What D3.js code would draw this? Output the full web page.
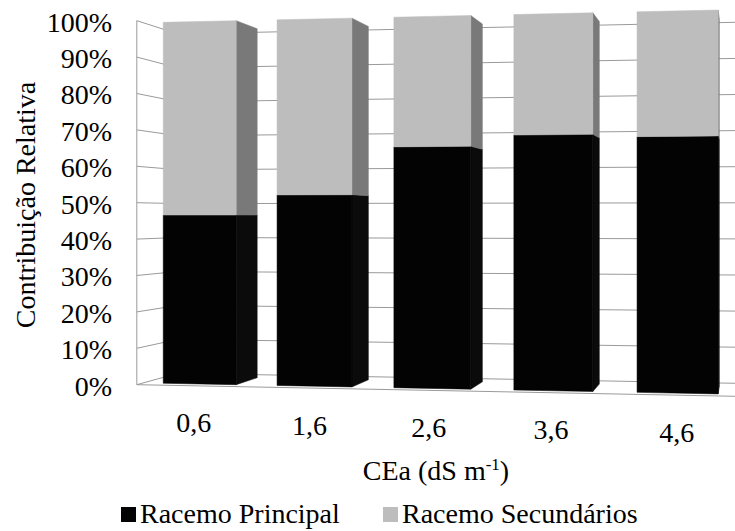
<!DOCTYPE html>
<html>
<head>
<meta charset="utf-8">
<script src="https://cdn.jsdelivr.net/npm/d3@7"></script>
<style>
  body { margin: 0; background: #fff; }
  svg text { font-family: "Liberation Serif", Tinos, "Noto Serif", "DejaVu Serif", FreeSerif, Times, serif !important; }
</style>
</head>
<body>
<svg width="735" height="531"></svg>
<script>
// values (percent of total)
var categories = ["0,6", "1,6", "2,6", "3,6", "4,6"];
var principal = [46.6, 52.1, 65.0, 67.9, 67.2];
var secundarios = [53.4, 47.9, 35.0, 32.1, 32.8];
var yTicks = [0, 10, 20, 30, 40, 50, 60, 70, 80, 90, 100];
var seriesNames = ["Racemo Principal", "Racemo Secundários"];

var svg = d3.select("svg");

// simple pinhole camera, turned a little about the vertical axis
var cam = { f: 1835, cx: 367.5, cy: 216, yaw: Math.atan(-0.2055), ox: -203.2, oy: -167.3, oz: 1835 };
var cs = Math.cos(cam.yaw), sn = Math.sin(cam.yaw);
function project(p) {
    var xc = cam.ox + p[0] * cs - p[2] * sn;
    var yc = cam.oy + p[1];
    var zc = cam.oz + p[0] * sn + p[2] * cs;
    return [cam.cx + cam.f * xc / zc, cam.cy - cam.f * yc / zc];
}

var x = d3.scaleBand().domain(categories).range([-22, 565])
    .paddingInner(0.356).paddingOuter(0.178);
var y = d3.scaleLinear().domain([0, 100]).range([0, 361]);
var zFront = -20, zBarFront = 0, zBarBack = 80, zWall = 115;
var xLeft = x.range()[0], xRight = x.range()[1];

var line = d3.line();
function poly(pts) { return line(pts.map(project)) + "Z"; }

// walls and floor
svg.append("path")
    .attr("d", poly([[xLeft, 0, zFront], [xLeft, 0, zWall], [xLeft, y(100), zWall], [xLeft, y(100), zFront]]))
    .attr("fill", "#fff");

var grid = svg.append("g").attr("stroke", "#9a9a9a").attr("stroke-width", 1).attr("fill", "none");
yTicks.forEach(function (t) {
    grid.append("path").attr("d", line([[xLeft, y(t), zFront], [xLeft, y(t), zWall], [xRight, y(t), zWall]].map(project)));
});
grid.append("path").attr("d", line([[xLeft, 0, zFront], [xLeft, y(100), zFront]].map(project)));
grid.append("path").attr("d", line([[xLeft, 0, zFront], [xRight, 0, zFront], [xRight, 0, zWall]].map(project)));

// bars
var colors = { front: ["#030303", "#bdbdbd"], side: ["#0b0b0b", "#797979"] };
var bars = svg.append("g");
categories.forEach(function (c, i) {
    var x0 = x(c), x1 = x(c) + x.bandwidth();
    var segs = [[0, principal[i]], [principal[i], principal[i] + secundarios[i]]];
    segs.forEach(function (s, k) {
        bars.append("path")
            .attr("d", poly([[x1, y(s[0]), zBarFront], [x1, y(s[0]), zBarBack], [x1, y(s[1]), zBarBack], [x1, y(s[1]), zBarFront]]))
            .attr("fill", colors.side[k]).attr("stroke", colors.side[k]).attr("stroke-width", 0.5);
    });
    segs.forEach(function (s, k) {
        bars.append("path")
            .attr("d", poly([[x0, y(s[0]), zBarFront], [x1, y(s[0]), zBarFront], [x1, y(s[1]), zBarFront], [x0, y(s[1]), zBarFront]]))
            .attr("fill", colors.front[k]).attr("stroke", colors.front[k]).attr("stroke-width", 0.5);
    });
});

// y tick labels
svg.append("g").selectAll("text").data(yTicks).enter().append("text")
    .attr("x", 112)
    .attr("y", function (d) { return project([xLeft, y(d), zFront])[1] + 11; })
    .attr("text-anchor", "end")
    .attr("font-size", 28)
    .text(function (d) { return d + "%"; });

// category labels
svg.append("g").selectAll("text").data(categories).enter().append("text")
    .attr("x", function (d) { return project([x(d) + x.bandwidth() / 2, 0, zFront])[0]; })
    .attr("y", function (d) { return project([x(d) + x.bandwidth() / 2, 0, zFront])[1] + 46.5; })
    .attr("text-anchor", "middle")
    .attr("font-size", 28)
    .text(function (d) { return d; });

// axis titles
svg.append("text")
    .attr("transform", "translate(35,205) rotate(-90)")
    .attr("text-anchor", "middle")
    .attr("font-size", 28)
    .text("Contribuição Relativa");

var xt = svg.append("text")
    .attr("x", 436).attr("y", 480)
    .attr("text-anchor", "middle")
    .attr("font-size", 28);
xt.append("tspan").text("CEa (dS m");
xt.append("tspan").attr("font-size", 17).attr("dy", -10).text("-1");
xt.append("tspan").attr("dy", 10).text(")");

// legend
var legendX = [121, 383];
var lg = svg.append("g");
seriesNames.forEach(function (n, i) {
    lg.append("rect").attr("x", legendX[i]).attr("y", 507).attr("width", 15).attr("height", 15)
        .attr("fill", colors.front[i]);
    lg.append("text").attr("x", legendX[i] + 19).attr("y", 523).attr("font-size", 28).text(n);
});
</script>
</body>
</html>
